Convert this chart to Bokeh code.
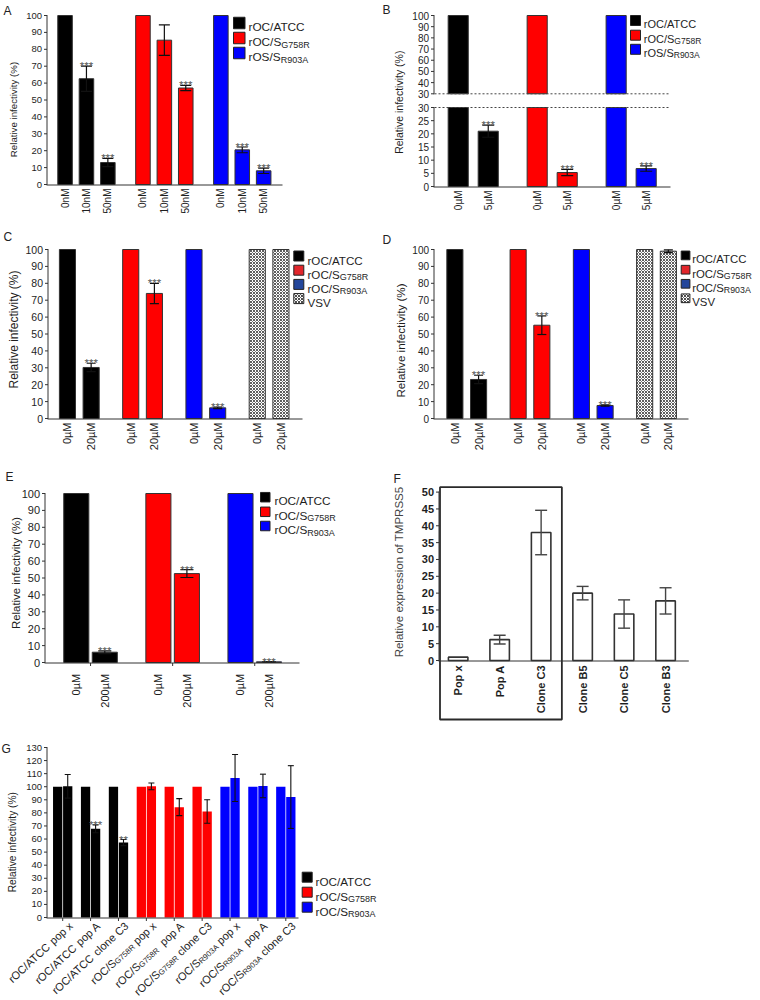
import math
from bokeh.plotting import figure
from bokeh.models import Range1d, ColumnDataSource
from bokeh.layouts import column, row
from bokeh.embed import file_html
from bokeh.resources import INLINE
from bokeh.core.properties import value, field

FONT = "Liberation Sans"
AX = "#333333"
TXT = "#1e1e1e"
STARC = "#555555"
BLACK, RED, BLUE = "#000000", "#ff0000", "#0000ff"
CRED, CBLUE = "#e2262b", "#23469b"

# ---------------- data ----------------
A_ticks = ["0nM", "10nM", "50nM", "0nM", "10nM", "50nM", "0nM", "10nM", "50nM"]
A_group = [0, 0, 0, 1, 1, 1, 2, 2, 2]
A_value = [100, 62.6, 13.0, 100, 85.4, 57.1, 100, 20.5, 8.1]
A_error = [0, 7.5, 2.4, 0, 9.0, 1.5, 0, 1.7, 1.6]
A_stars = ["", "***", "***", "", "", "***", "", "***", "***"]
A_legend = [("rOC/ATCC", ""), ("rOC/S", "G758R"), ("rOS/S", "R903A")]

B_ticks = ["0µM", "5µM", "0µM", "5µM", "0µM", "5µM"]
B_group = [0, 0, 1, 1, 2, 2]
B_value = [100, 21.0, 100, 5.3, 100, 6.8]
B_error = [0, 2.3, 0, 1.2, 0, 1.0]
B_stars = ["", "***", "", "***", "", "***"]
B_legend = [("rOC/ATCC", ""), ("rOC/S", "G758R"), ("rOS/S", "R903A")]
B_low_ticks = [0, 5, 10, 15, 20, 25, 30]
B_high_ticks = [30, 40, 50, 60, 70, 80, 90, 100]

C_ticks = ["0µM", "20µM", "0µM", "20µM", "0µM", "20µM", "0µM", "20µM"]
C_group = [0, 0, 1, 1, 2, 2, 3, 3]
C_value = [100, 30.2, 100, 74.0, 100, 6.3, 100, 100]
C_error = [0, 2.5, 0, 6.0, 0, 0.5, 0, 0]
C_stars = ["", "***", "", "***", "", "***", "", ""]
CD_legend = [("rOC/ATCC", ""), ("rOC/S", "G758R"), ("rOC/S", "R903A"), ("VSV", "")]

D_ticks = ["0µM", "20µM", "0µM", "20µM", "0µM", "20µM", "0µM", "20µM"]
D_group = [0, 0, 1, 1, 2, 2, 3, 3]
D_value = [100, 23.1, 100, 55.2, 100, 7.7, 100, 99.0]
D_error = [0, 2.5, 0, 5.5, 0, 0.4, 0, 0.8]
D_stars = ["", "***", "", "***", "", "***", "", ""]

E_ticks = ["0µM", "200µM", "0µM", "200µM", "0µM", "200µM"]
E_group = [0, 0, 1, 1, 2, 2]
E_value = [100, 6.1, 100, 52.6, 100, 0.4]
E_error = [0, 0.8, 0, 2.3, 0, 0.1]
E_stars = ["", "***", "", "***", "", "***"]
E_legend = [("rOC/ATCC", ""), ("rOC/S", "G758R"), ("rOC/S", "R903A")]

F_ticks = ["Pop x", "Pop A", "Clone C3", "Clone B5", "Clone C5", "Clone B3"]
F_value = [1.0, 6.2, 38.0, 20.0, 13.8, 17.7]
F_error = [0, 1.3, 6.6, 2.0, 4.2, 3.9]

G_ticks = [("rOC/ATCC", "", " pop x"), ("rOC/ATCC", "", " pop A"), ("rOC/ATCC", "", " clone C3"),
           ("rOC/S", "G758R", " pop x"), ("rOC/S", "G758R", "  pop A"), ("rOC/S", "G758R", " clone C3"),
           ("rOC/S", "R903A", " pop x"), ("rOC/S", "R903A", "  pop A"), ("rOC/S", "R903A", " clone C3")]
G_group = [0, 0, 0, 1, 1, 1, 2, 2, 2]
G_control = [100, 100, 100, 100, 100, 100, 100, 100, 100]
G_value = [100.3, 67.8, 57.3, 100.3, 84.4, 81.1, 106.7, 100.6, 92.1]
G_error = [9.0, 3.0, 2.3, 2.6, 6.5, 9.0, 18.0, 9.0, 24.0]
G_stars = ["", "***", "**", "", "", "", "", "", ""]
G_legend = [("rOC/ATCC", ""), ("rOC/S", "G758R"), ("rOC/S", "R903A")]

GCOL = [BLACK, RED, BLUE]

# ---------------- helpers ----------------
CW = {' ': 278, '/': 278, '(': 333, ')': 333, '%': 889, '*': 389, 'µ': 576,
      'A': 667, 'B': 667, 'C': 722, 'G': 778, 'M': 833, 'O': 778, 'P': 667,
      'R': 722, 'S': 667, 'T': 611, 'V': 667, 'a': 556, 'c': 500, 'e': 556,
      'i': 222, 'l': 222, 'n': 556, 'o': 556, 'p': 556, 'r': 333, 's': 500,
      't': 278, 'v': 500, 'x': 500, 'y': 500, 'f': 278}


def tw(s, size):
    return sum(CW.get(ch, 556) for ch in s) * size / 1000.0


def positions(groups, gap):
    return [round(i + g * gap, 4) for i, g in enumerate(groups)]


def make_panel(ox, oy, w, h, vf, xr, yr):
    """vf = (left, top, right, bottom) page pixels of the plotting area whose data
    extent is xr (left..right) and yr (bottom..top); the canvas extends the scales."""
    P = dict(vf=vf, xr=xr, yr=yr, T=[], L=[])
    x_lo, y_top = to_data(P, ox, oy)
    x_hi, y_bot = to_data(P, ox + w, oy + h)
    p = figure(width=w, height=h, x_range=Range1d(x_lo, x_hi), y_range=Range1d(y_bot, y_top),
               output_backend="svg", toolbar_location=None, tools="",
               min_border_left=0, min_border_right=0, min_border_top=0, min_border_bottom=0,
               x_axis_location=None, y_axis_location=None)
    p.title.visible = False
    p.outline_line_color = None
    p.grid.visible = False
    p.background_fill_color = "white"
    p.border_fill_color = "white"
    P["p"] = p
    return P


def to_data(P, X, Y):
    fl, ft, fr, fb = P["vf"]
    x0, x1 = P["xr"]
    y0, y1 = P["yr"]
    return (x0 + (X - fl) / (fr - fl) * (x1 - x0), y0 + (fb - Y) / (fb - ft) * (y1 - y0))


def to_page(P, x, y):
    fl, ft, fr, fb = P["vf"]
    x0, x1 = P["xr"]
    y0, y1 = P["yr"]
    return (fl + (x - x0) / (x1 - x0) * (fr - fl), fb - (y - y0) / (y1 - y0) * (fb - ft))


def text(P, X, Y, s, size, align="left", baseline="alphabetic", angle=0.0, color=TXT, bold=False):
    x, y = to_data(P, X, Y)
    P["T"].append((align, baseline, "bold" if bold else "normal", x, y, s, angle, f"{size}px", color))


def line(P, X0, Y0, X1, Y1, color=AX, width=1.0, dash="solid"):
    P["L"].append((color, width, dash, X0, Y0, X1, Y1))


def finalize(P):
    p = P["p"]
    lg = {}
    for col, wd, dash, X0, Y0, X1, Y1 in P["L"]:
        g = lg.setdefault((col, wd, dash), dict(x0=[], y0=[], x1=[], y1=[]))
        a, b = to_data(P, X0, Y0)
        c, d = to_data(P, X1, Y1)
        g["x0"].append(a); g["y0"].append(b); g["x1"].append(c); g["y1"].append(d)
    for (col, wd, dash), g in lg.items():
        p.segment(x0="x0", y0="y0", x1="x1", y1="y1", source=ColumnDataSource(g),
                  line_color=col, line_width=wd, line_dash=dash)
    tg = {}
    for a, b, s, x, y, t, ang, sz, col in P["T"]:
        g = tg.setdefault((a, b, s), dict(x=[], y=[], text=[], angle=[], size=[], color=[]))
        g["x"].append(x); g["y"].append(y); g["text"].append(t)
        g["angle"].append(ang); g["size"].append(sz); g["color"].append(col)
    for (a, b, s), g in tg.items():
        p.text(x="x", y="y", text="text", angle="angle", source=ColumnDataSource(g),
               text_font=value(FONT), text_font_size=field("size"), text_color=field("color"),
               text_align=a, text_baseline=b, text_font_style=s)


def y_axis(P, ticks, size, disp=lambda v: v, bold=False, spans=None, labels=None):
    fl, ft, fr, fb = P["vf"]
    X = fl - 0.5
    for i, t in enumerate(ticks):
        _, Y = to_page(P, 0, disp(t))
        line(P, X - 3, Y, X, Y)
        text(P, fl - 5.5, Y, labels[i] if labels else str(t), size, align="right",
             baseline="middle", bold=bold)
    for lo, hi in (spans or [(ticks[0], ticks[-1])]):
        _, Y0 = to_page(P, 0, disp(lo))
        _, Y1 = to_page(P, 0, disp(hi))
        line(P, X, Y0 + 0.5, X, Y1 - 0.5)


def x_axis(P, x_end_px=None):
    fl, ft, fr, fb = P["vf"]
    line(P, fl - 1, fb + 0.5, x_end_px if x_end_px else fr, fb + 0.5)


def x_labels(P, xs, labels, size, standoff, bold=False):
    fb = P["vf"][3]
    for x, lab in zip(xs, labels):
        X, _ = to_page(P, x, 0)
        text(P, X, fb + standoff, lab, size, align="right", baseline="middle",
             angle=math.pi / 2, bold=bold)


def x_ticks(P, xs, length=3):
    fb = P["vf"][3]
    for x in xs:
        X, _ = to_page(P, x, 0)
        line(P, X, fb + 0.5, X, fb + 0.5 + length)


def bars(P, xs, vals, width, colors, bottom=0, line_color="#333333", line_width=1.0, **kw):
    src = ColumnDataSource(dict(x=xs, top=vals, c=colors))
    P["p"].vbar(x="x", top="top", bottom=bottom, width=width, fill_color="c",
                line_color=line_color, line_width=line_width, source=src, **kw)


def errors(P, xs, vals, errs, cap, color="#111111", lw=1.2, tf=lambda v: v):
    sel = [(x, v, e) for x, v, e in zip(xs, vals, errs) if e > 0]
    src = ColumnDataSource(dict(x=[s[0] for s in sel], lo=[tf(s[1] - s[2]) for s in sel],
                                hi=[tf(s[1] + s[2]) for s in sel]))
    p = P["p"]
    p.segment(x0="x", y0="lo", x1="x", y1="hi", source=src, line_color=color, line_width=lw)
    p.scatter(x="x", y="hi", marker="dash", size=cap, line_color=color, line_width=lw, source=src)
    p.scatter(x="x", y="lo", marker="dash", size=cap, line_color=color, line_width=lw, source=src)


def stars(P, xs, vals, errs, marks, size=11.5, tf=lambda v: v):
    sel = [(x, tf(v + e), m) for x, v, e, m in zip(xs, vals, errs, marks) if m]
    src = ColumnDataSource(dict(x=[s[0] for s in sel], y=[s[1] for s in sel], t=[s[2] for s in sel]))
    P["p"].text(x="x", y="y", text="t", source=src, text_align="center", text_baseline="alphabetic",
                text_font=value(FONT), text_font_size=f"{size}px", text_color=STARC)


def ytitle(P, X, Y, s, size, color=TXT):
    text(P, X, Y, s, size, align="center", baseline="middle", angle=math.pi / 2, color=color)


def letter(P, X, Y, s):
    text(P, X, Y, s, 12, baseline="top", color="#222222")


def legend(P, entries, colors, sq_x, sq, rows, tx, f, fs, hatch_last=False):
    for k, ((main, sub), col, cy) in enumerate(zip(entries, colors, rows)):
        kw = {}
        if hatch_last and k == len(entries) - 1:
            kw = dict(hatch_pattern="x", hatch_color="#222222", hatch_scale=3, hatch_weight=0.8)
        l, t = to_data(P, sq_x, cy - sq / 2)
        r, b = to_data(P, sq_x + sq, cy + sq / 2)
        P["p"].quad(left=[l], right=[r], top=[t], bottom=[b], fill_color=col,
                    line_color="#222222", line_width=1, **kw)
        base = cy + 0.358 * f
        text(P, tx, base, main, f)
        if sub:
            text(P, tx + tw(main, f), base + 0.2 * f, sub, fs)


def rot_label(P, end_x, end_y, parts, f, fs, drop, ang=43):
    a = math.radians(ang)
    c, s = math.cos(a), math.sin(a)
    items = []
    cum = 0.0
    for t, sub in parts:
        if not t:
            continue
        size = fs if sub else f
        st = t.lstrip(" ")
        cum += tw(" " * (len(t) - len(st)), size)
        items.append((st, size, sub, cum))
        cum += tw(st, size)
    W = cum
    bx, by = end_x - W * c, end_y + W * s
    for st, size, sub, off in items:
        px = bx + off * c + (drop * s if sub else 0.0)
        py = by - off * s + (drop * c if sub else 0.0)
        text(P, px, py, st, size, angle=a)


# ---------------- Panel A ----------------
PA = make_panel(0, 0, 380, 228, (47, 15, 282, 184), (-0.82, 10.16), (0, 100))
A_x = positions(A_group, 0.64)
bars(PA, A_x, A_value, 0.68, [GCOL[g] for g in A_group])
errors(PA, A_x, A_value, A_error, 11)
stars(PA, A_x, A_value, A_error, A_stars)
y_axis(PA, list(range(0, 101, 10)), 9.5)
x_axis(PA)
x_labels(PA, A_x, A_ticks, 10, 4)
ytitle(PA, 13, 109, "Relative infectivity (%)", 9.7)
letter(PA, 3, 3, "A")
legend(PA, A_legend, [BLACK, RED, BLUE], 233, 11.5, [22.5, 37.5, 52.5], 248, 11.8, 9)

# ---------------- Panel B (broken y axis: 0-30 below, 30-100 above) ----------------
B_LOW, B_GAP, B_HIGH = 79.0, 13.7, 78.3     # pixel heights of the two axis segments and the gap


def b_low(v):
    return v * B_LOW / 30.0


def b_high(v):
    return B_LOW + B_GAP + (v - 30.0) * B_HIGH / 70.0


def b_disp(v):
    return b_low(v) if v <= 30 else b_high(v)


B_x = positions(B_group, 0.63)
PB = make_panel(380, 0, 380, 228, (434, 15, 670, 186), (-0.79, 7.07), (0, B_LOW + B_GAP + B_HIGH))
B_cols = [GCOL[g] for g in B_group]
bars(PB, B_x, [b_low(min(v, 30)) for v in B_value], 0.67, B_cols)
hi_idx = [i for i, v in enumerate(B_value) if v > 30]
bars(PB, [B_x[i] for i in hi_idx], [b_high(B_value[i]) for i in hi_idx], 0.67,
     [B_cols[i] for i in hi_idx], bottom=B_LOW + B_GAP)
errors(PB, B_x, B_value, B_error, 12, tf=b_disp)
stars(PB, B_x, B_value, B_error, B_stars, tf=b_disp)
B_yt = [b_low(v) for v in B_low_ticks] + [b_high(v) for v in B_high_ticks]
B_yl = [str(v) for v in B_low_ticks] + [str(v) for v in B_high_ticks]
y_axis(PB, B_yt, 10, labels=B_yl, spans=[(0, B_LOW), (B_LOW + B_GAP, B_LOW + B_GAP + B_HIGH)])
for loc in (B_LOW, B_LOW + B_GAP):
    _, Yd = to_page(PB, 0, loc)
    line(PB, PB["vf"][0], Yd, PB["vf"][2], Yd, color="#444444", dash="2 2")
x_axis(PB)
x_labels(PB, B_x, B_ticks, 10, 4)
letter(PB, 382, 2, "B")
ytitle(PB, 398.3, 101.7, "Relative infectivity (%)", 10.5)
legend(PB, B_legend, [BLACK, RED, BLUE], 630, 10, [20, 34.7, 48.8], 643.3, 11, 8.5)

# ---------------- Panel C ----------------
C_x = positions(C_group, 0.67)
PC = make_panel(0, 228, 380, 238, (48, 249, 302, 418), (-0.80, 9.92), (0, 100))
n6 = 6
bars(PC, C_x[:n6], C_value[:n6], 0.68, [GCOL[g] for g in C_group[:n6]])
bars(PC, C_x[n6:], C_value[n6:], 0.68, ["white"] * 2, hatch_pattern="x",
     hatch_color="#333333", hatch_scale=3, hatch_weight=0.8)
errors(PC, C_x, C_value, C_error, 9)
stars(PC, C_x, C_value, C_error, C_stars)
y_axis(PC, list(range(0, 101, 10)), 10.5)
x_axis(PC)
x_labels(PC, C_x, C_ticks, 11, 4)
ytitle(PC, 13.3, 329, "Relative infectivity (%)", 12)
letter(PC, 3, 229, "C")
legend(PC, CD_legend, [BLACK, CRED, CBLUE, "white"], 293.3, 10,
       [255.5, 269.7, 283.9, 298.1], 307, 11.6, 9, hatch_last=True)

# ---------------- Panel D ----------------
D_x = positions(D_group, 0.67)
PD = make_panel(380, 228, 380, 238, (434, 249, 688, 418), (-0.86, 9.86), (0, 100))
bars(PD, D_x[:n6], D_value[:n6], 0.68, [GCOL[g] for g in D_group[:n6]])
bars(PD, D_x[n6:], D_value[n6:], 0.68, ["white"] * 2, hatch_pattern="x",
     hatch_color="#333333", hatch_scale=3, hatch_weight=0.8)
errors(PD, D_x, D_value, D_error, 9)
stars(PD, D_x, D_value, D_error, D_stars)
y_axis(PD, list(range(0, 101, 10)), 10)
x_axis(PD)
x_labels(PD, D_x, D_ticks, 11, 4)
ytitle(PD, 400, 340, "Relative infectivity (%)", 11.6)
letter(PD, 382, 232, "D")
legend(PD, CD_legend, [BLACK, CRED, CBLUE, "white"], 680.7, 8.7,
       [254.9, 269.2, 283.3, 297.8], 691.7, 11.4, 8.8, hatch_last=True)

# ---------------- Panel E ----------------
E_x = positions(E_group, 0.88)
PE = make_panel(0, 466, 380, 266, (45, 493, 299, 662), (-1.08, 7.83), (0, 100))
bars(PE, E_x, E_value, 0.88, [GCOL[g] for g in E_group])
errors(PE, E_x, E_value, E_error, 13)
stars(PE, E_x, E_value, E_error, E_stars)
y_axis(PE, list(range(0, 101, 10)), 11)
x_axis(PE)
x_ticks(PE, [(E_x[2 * g] + E_x[2 * g + 1]) / 2 for g in range(3)])
x_labels(PE, E_x, E_ticks, 11, 11.3)
ytitle(PE, 15, 572.5, "Relative infectivity (%)", 11.4)
letter(PE, 5, 469, "E")
legend(PE, E_legend, [BLACK, RED, BLUE], 260, 9.5, [496.7, 511.3, 525.5], 274, 11.8, 9)

# ---------------- Panel F ----------------
F_x = list(range(len(F_value)))
PF = make_panel(380, 466, 380, 266, (439, 491.6, 688.3, 660), (-0.45, 5.56), (0, 50))
bars(PF, F_x, F_value, 0.47, ["white"] * len(F_x), line_color="#333333", line_width=1.6)
errors(PF, F_x, F_value, F_error, 12, color="#444444", lw=1.4)
y_axis(PF, list(range(0, 51, 5)), 11, bold=True)
x_axis(PF)
x_labels(PF, F_x, F_ticks, 11, 5, bold=True)
F_bl, F_bt = to_data(PF, 439.5, 486.7)
F_br = (F_x[2] + F_x[3]) / 2
_, F_bb = to_data(PF, 0, 719)
PF["p"].quad(left=[F_bl], right=[F_br], top=[F_bt], bottom=[F_bb], fill_color=None,
             line_color="#2a2a2a", line_width=1.8)
ytitle(PF, 398.3, 571.5, "Relative expression of TMPRSS5", 11.5, color="#444444")
letter(PF, 393, 471, "F")

# ---------------- Panel G ----------------
G_x = list(range(len(G_value)))
PG = make_panel(0, 732, 760, 266, (47, 747, 298, 917), (-0.545, 8.455), (0, 130))
G_xa = [x - 0.18 for x in G_x]
G_xb = [x + 0.18 for x in G_x]
bars(PG, G_xa, G_control, 0.333, [GCOL[g] for g in G_group], line_color=None)
bars(PG, G_xb, G_value, 0.333, [GCOL[g] for g in G_group], line_color=None)
errors(PG, G_xb, G_value, G_error, 6, lw=1.1)
stars(PG, G_xb, G_value, G_error, G_stars)
y_axis(PG, list(range(0, 131, 10)), 9.5)
x_axis(PG)
x_ticks(PG, G_x)
for x, (main, sub, rest) in zip(G_x, G_ticks):
    X, _ = to_page(PG, x, 0)
    rot_label(PG, X + 8.0, PG["vf"][3] + 6.5, [(main, False), (sub, True), (rest, False)],
              11, 7.8, 2.0)
ytitle(PG, 12, 841.7, "Relative infectivity (%)", 10.2)
letter(PG, 1, 741, "G")
legend(PG, G_legend, [BLACK, RED, BLUE], 301.7, 10, [876.7, 891.7, 906.7], 315, 11.7, 9)

for P in (PA, PB, PC, PD, PE, PF, PG):
    finalize(P)

layout = column(
    row(PA["p"], PB["p"]),
    row(PC["p"], PD["p"]),
    row(PE["p"], PF["p"]),
    PG["p"],
)

with open("out.html", "w", encoding="utf-8") as fh:
    fh.write(file_html(layout, INLINE, title="Relative infectivity"))
